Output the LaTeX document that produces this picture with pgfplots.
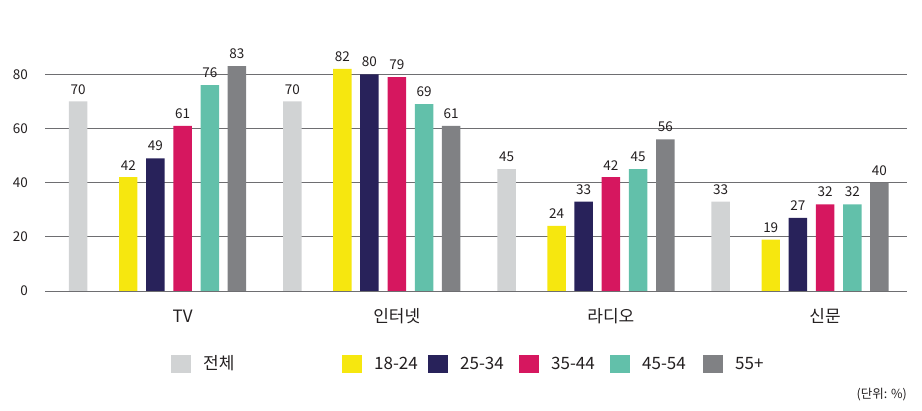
\documentclass[border=0pt]{standalone}
\usepackage{fontspec}
\setmainfont{Noto Sans CJK KR}
\usepackage{pgfplots}
\pgfplotsset{compat=1.18}
\definecolor{cAll}{RGB}{209,211,212}
\definecolor{cY}{RGB}{246,231,15}
\definecolor{cN}{RGB}{40,34,90}
\definecolor{cR}{RGB}{214,23,95}
\definecolor{cT}{RGB}{98,192,170}
\definecolor{cG}{RGB}{128,129,132}
\definecolor{gridc}{RGB}{110,110,113}
\definecolor{txt}{RGB}{35,31,32}
\pgfplotsset{sq/.style={legend image code/.code={\fill[##1] (0bp,-9bp) rectangle (20bp,9bp);}}}
\begin{document}
\begin{tikzpicture}
\useasboundingbox (0,0) rectangle (922bp,411bp);
\begin{axis}[
  at={(45bp,120bp)}, anchor=south west,
  width=862bp, height=243.8bp, scale only axis,
  xmin=-5.14, xmax=27.06, ymin=0, ymax=90,
  axis lines=left,
  axis line style={-},
  y axis line style={draw=none},
  x axis line style={color=gridc, line width=0.8bp},
  ytick={0,20,40,60,80},
  ymajorgrids, grid style={color=gridc, line width=0.8bp},
  major tick length=0pt,
  xtick={0,8,16,24},
  xticklabels={TV,인터넷,라디오,신문},
  /pgf/number format/assume math mode=true,
  xticklabel style={font=\fontsize{17bp}{20bp}\selectfont, text=txt, inner sep=0pt, text height=12.5bp, text depth=0pt, anchor=north, yshift=-19bp},
  yticklabel style={font=\fontsize{13.5bp}{16bp}\selectfont, text=txt, inner sep=0pt, anchor=east, xshift=-17bp},
  ybar, bar width=0.69, /pgf/bar shift=0pt,
  sq,
  nodes near coords,
  nodes near coords style={font=\fontsize{13.5bp}{16bp}\selectfont, text=txt, inner sep=0pt, anchor=south, yshift=7bp},
  legend columns=-1,
  legend style={draw=none, fill=none, inner sep=0pt, column sep=0pt, row sep=0pt,
    at={(axis description cs:0.1462,-0.2994)}, anchor=west,
    nodes={inner sep=0pt, text height=12bp, text depth=0bp, text=txt, font=\fontsize{17bp}{20bp}\selectfont},
    cells={anchor=west}},
]
\addplot[fill=cAll, draw=none] coordinates {(-3.9,70) (4.1,70) (12.1,45) (20.1,33)};
\addlegendentry{\makebox[151bp][l]{\hspace{12bp}전체}}
\addplot[fill=cY, draw=none] coordinates {(-2.03,42) (5.97,82) (13.97,24) (21.97,19)};
\addlegendentry{\makebox[66bp][l]{\hspace{12bp}18-24}}
\addplot[fill=cN, draw=none] coordinates {(-1.02,49) (6.98,80) (14.98,33) (22.98,27)};
\addlegendentry{\makebox[71bp][l]{\hspace{12bp}25-34}}
\addplot[fill=cR, draw=none] coordinates {(0,61) (8,79) (16,42) (24,32)};
\addlegendentry{\makebox[71bp][l]{\hspace{12bp}35-44}}
\addplot[fill=cT, draw=none] coordinates {(1.02,76) (9.02,69) (17.02,45) (25.02,32)};
\addlegendentry{\makebox[73bp][l]{\hspace{12bp}45-54}}
\addplot[fill=cG, draw=none] coordinates {(2.03,83) (10.03,61) (18.03,56) (26.03,40)};
\addlegendentry{\makebox[40bp][l]{\hspace{12bp}55+}}
\end{axis}
\node[anchor=east, inner sep=0pt, text=txt, font=\fontsize{12.5bp}{14bp}\selectfont] at (907bp,16bp) {(단위: \%)};
\end{tikzpicture}
\end{document}
